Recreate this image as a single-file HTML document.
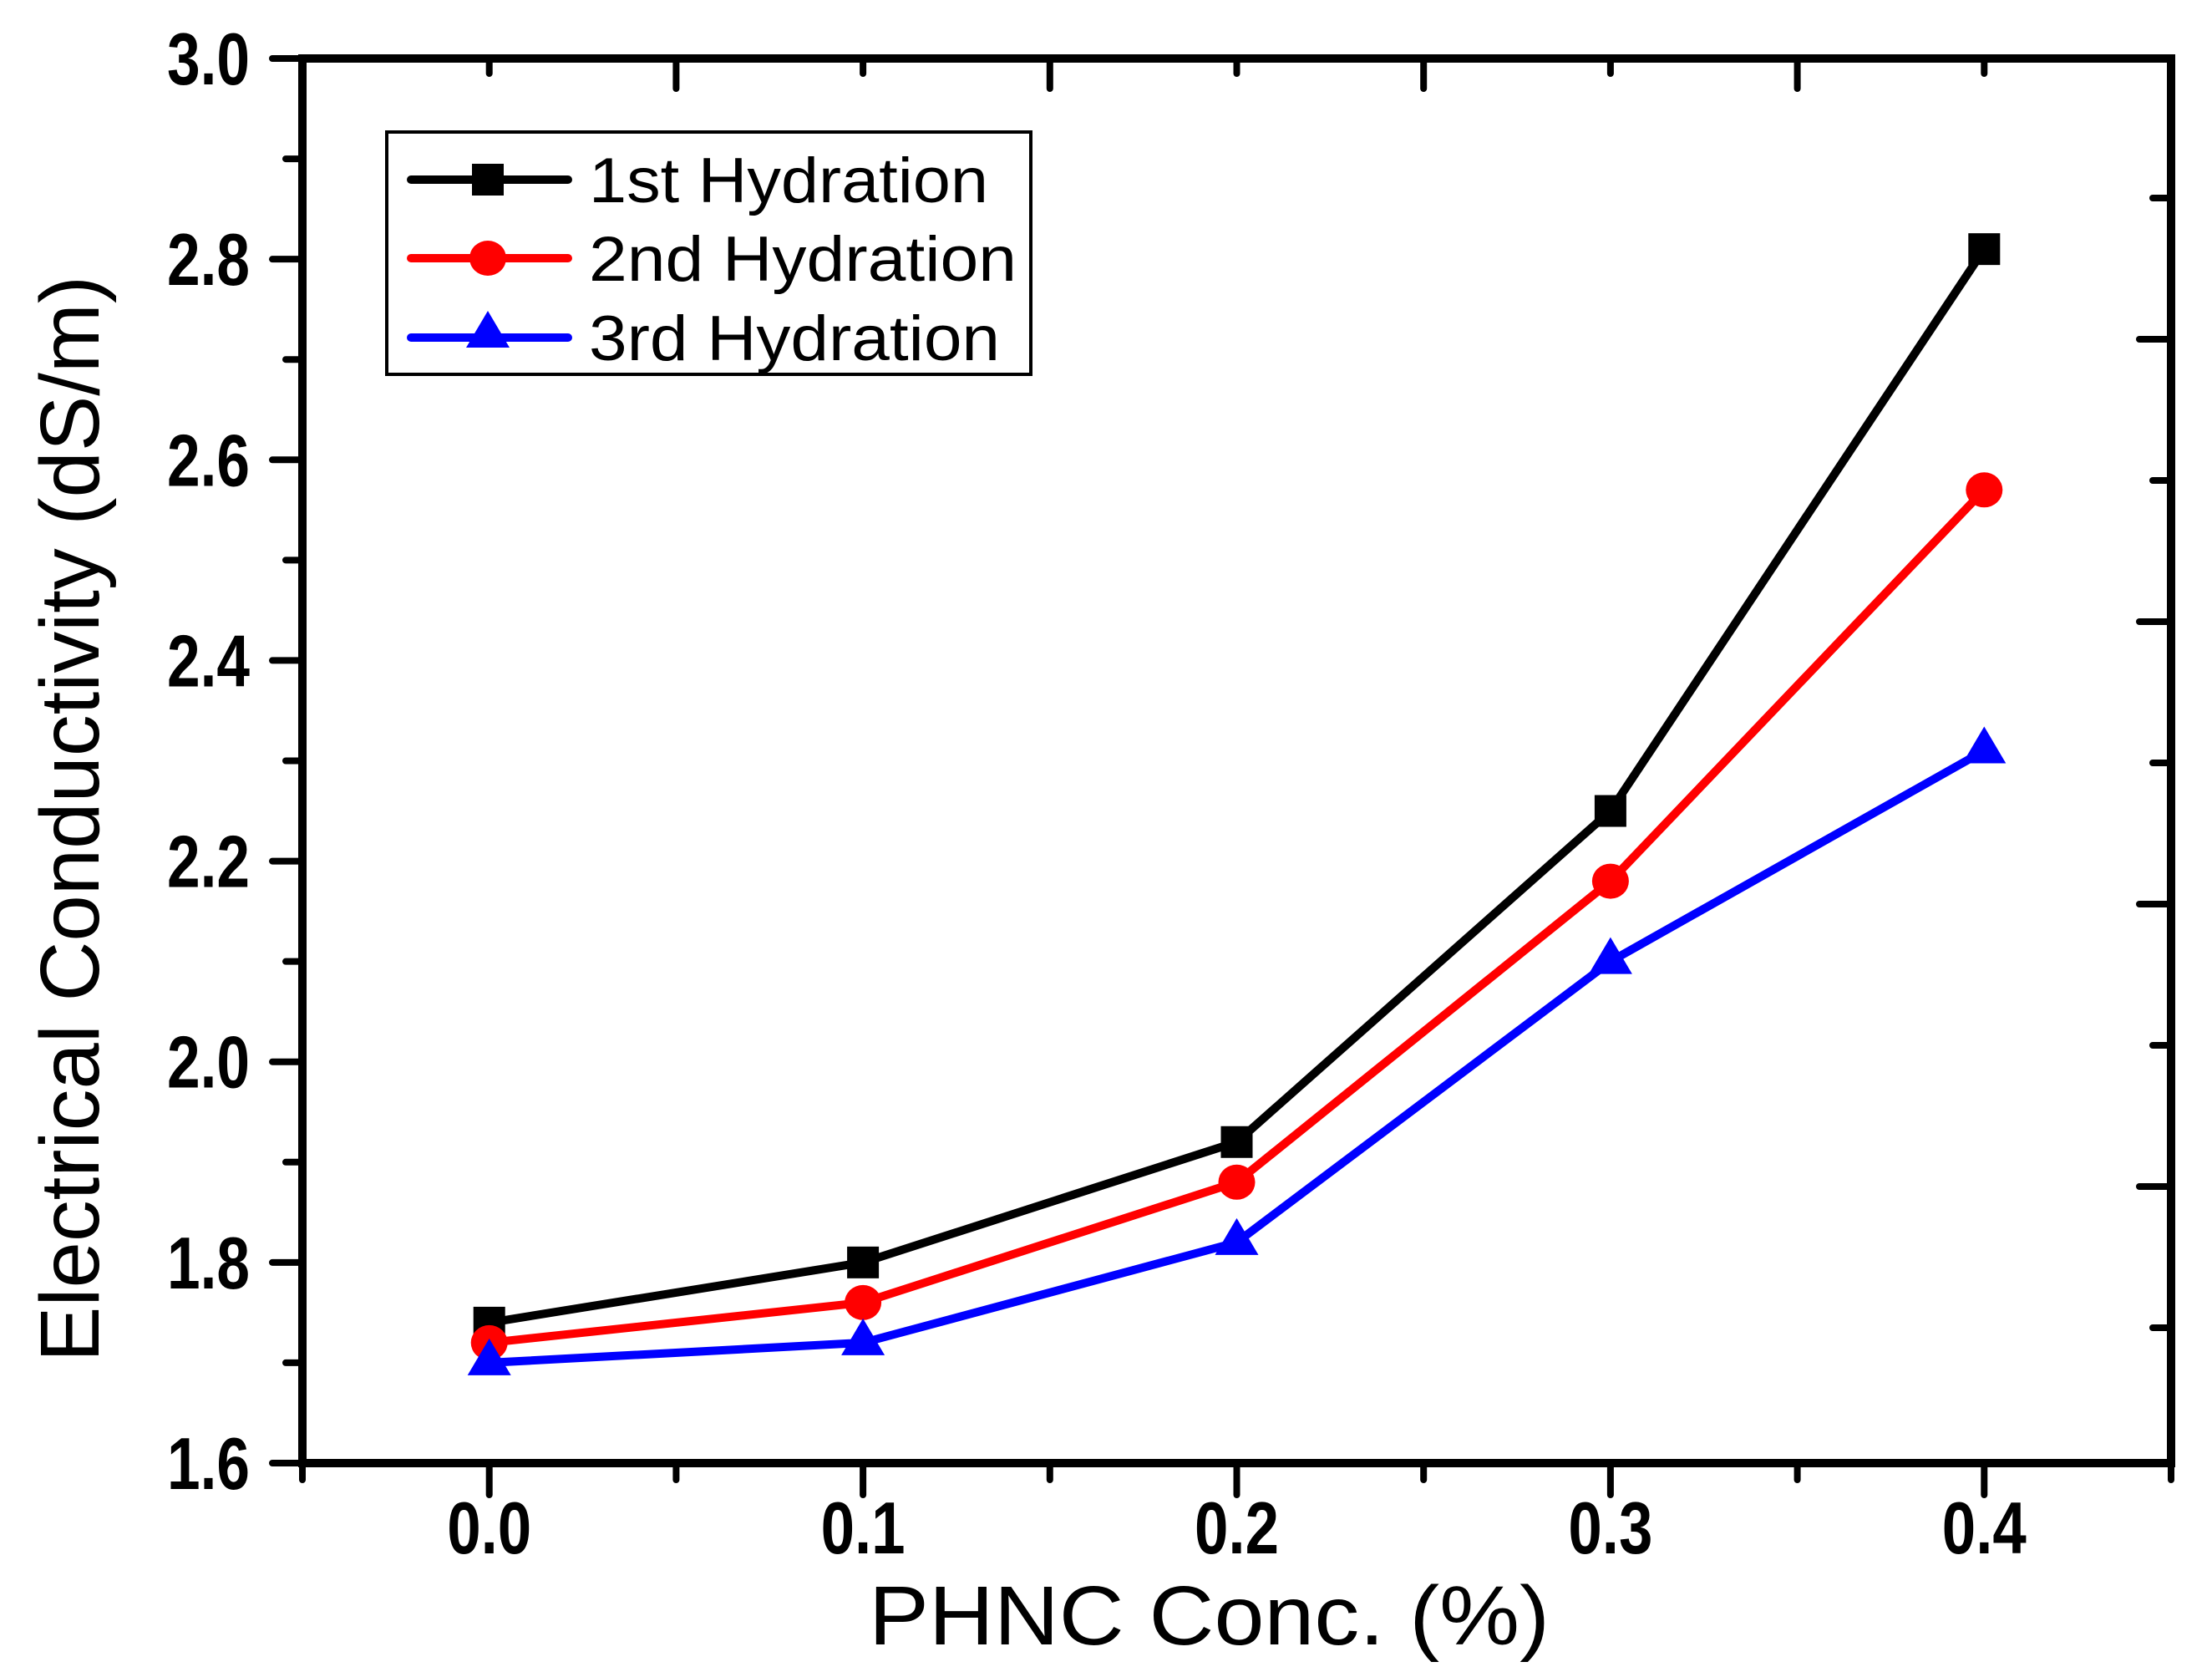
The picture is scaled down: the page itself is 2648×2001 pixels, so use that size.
<!DOCTYPE html>
<html><head><meta charset="utf-8"><style>html,body{margin:0;padding:0;background:#fff}svg{display:block}</style></head>
<body>
<svg id="chart" width="2648" height="2001" viewBox="0 0 2648 2001" xmlns="http://www.w3.org/2000/svg" font-family="'Liberation Sans', Arial, sans-serif">
<rect width="2648" height="2001" fill="#fff"/>
<g id="decor"></g>
<g id="series"></g>
<g id="legend">
  <rect x="463" y="158" width="771" height="290" fill="#fff" stroke="#000" stroke-width="4"/>
</g>
<text x="118" y="980" font-size="100" text-anchor="middle" textLength="1300" lengthAdjust="spacingAndGlyphs" transform="rotate(-90 118 980)">Electrical Conductivity (dS/m)</text>
<text x="1040" y="1968" font-size="100" textLength="815" lengthAdjust="spacingAndGlyphs">PHNC Conc. (%)</text>
<script>
const categories = [0.0, 0.1, 0.2, 0.3, 0.4];
const hyd1 = [1.74, 1.80, 1.92, 2.25, 2.81];
const hyd2 = [1.72, 1.76, 1.88, 2.18, 2.57];
const hyd3 = [1.70, 1.72, 1.82, 2.10, 2.31];
const seriesNames = ["1st Hydration", "2nd Hydration", "3rd Hydration"];
const xTickLabels = ["0.0", "0.1", "0.2", "0.3", "0.4"];
const yTickLabels = ["1.6", "1.8", "2.0", "2.2", "2.4", "2.6", "2.8", "3.0"];

const NS = "http://www.w3.org/2000/svg";
const X0 = 362, X1 = 2599, XMIN = -0.05, XMAX = 0.45;
const Y0 = 1751, Y1 = 70, YMIN = 1.6, YMAX = 3.0;
function xs(v){ return X0 + (v - XMIN) / (XMAX - XMIN) * (X1 - X0); }
function ys(v){ return Y0 - (v - YMIN) / (YMAX - YMIN) * (Y0 - Y1); }
function mk(tag, attrs, parent){ const e = document.createElementNS(NS, tag); for (const k in attrs) e.setAttribute(k, attrs[k]); parent.appendChild(e); return e; }

const decor = document.getElementById('decor');
let fr = mk('rect', {x: X0, y: Y1, width: X1 - X0, height: Y0 - Y1, fill: 'none', stroke: '#000', 'stroke-width': 10}, decor);


for (let i = 0; i <= 10; i++) {
  const v = -0.05 + i * 0.05;
  const major = (i % 2 === 1);
  const t = mk('line', {x1: xs(v), x2: xs(v), y1: Y0, y2: Y0 + (major ? 38 : 20), stroke: '#000', 'stroke-width': 8, 'stroke-linecap': 'round'}, decor);
  
  
  if (i > 0 && i < 10) {
    const tt = mk('line', {x1: xs(v), x2: xs(v), y1: Y1, y2: Y1 + (major ? 18 : 36), stroke: '#000', 'stroke-width': 8, 'stroke-linecap': 'round'}, decor);
    
    
  }
}
xTickLabels.forEach((lab, i) => {
  const t = mk('text', {x: xs(categories[i]), y: 1859, 'font-size': 88, 'font-weight': 'bold', 'text-anchor': 'middle', textLength: 101, lengthAdjust: 'spacingAndGlyphs'}, decor);
  t.textContent = lab;
  
  
});
for (let i = 0; i <= 14; i++) {
  const v = 1.6 + i * 0.1;
  const major = (i % 2 === 0);
  const t = mk('line', {x1: X0, x2: X0 - (major ? 36 : 20), y1: ys(v), y2: ys(v), stroke: '#000', 'stroke-width': 8, 'stroke-linecap': 'round'}, decor);
  
  
}
yTickLabels.forEach((lab, i) => {
  const t = mk('text', {x: 299, y: ys(parseFloat(lab)) + 31, 'font-size': 88, 'font-weight': 'bold', 'text-anchor': 'end', textLength: 99, lengthAdjust: 'spacingAndGlyphs'}, decor);
  t.textContent = lab;
  
  
});
for (let i = 0; i < 9; i++) {
  const y = 237 + i * 169;
  const long = (i % 2 === 1);
  const t = mk('line', {x1: X1, x2: X1 - (long ? 38 : 22), y1: y, y2: y, stroke: '#000', 'stroke-width': 8, 'stroke-linecap': 'round'}, decor);
  
  
}

const sg = document.getElementById('series');
const colors = ['#000000', '#ff0000', '#0000ff'];
const data = [hyd1, hyd2, hyd3];
function marker(kind, cx, cy, color, parent){
  let m;
  if (kind === 0) m = mk('rect', {x: cx - 19, y: cy - 19, width: 38, height: 38, fill: color}, parent);
  else if (kind === 1) m = mk('ellipse', {cx: cx, cy: cy, rx: 22, ry: 21, fill: color}, parent);
  else m = mk('polygon', {points: `${cx},${cy - 29} ${cx - 26},${cy + 15} ${cx + 26},${cy + 15}`, fill: color}, parent);
  return m;
}
data.forEach((vals, s) => {
  const pts = vals.map((v, i) => xs(categories[i]) + ',' + ys(v)).join(' ');
  const pl = mk('polyline', {points: pts, fill: 'none', stroke: colors[s], 'stroke-width': 10, 'stroke-linejoin': 'miter'}, sg);
  
  
  vals.forEach((v, i) => {
    const m = marker(s, xs(categories[i]), ys(v), colors[s], sg);
    
    
  });
});

const lg = document.getElementById('legend');
const rowsY = [215, 309, 404];
const lens = [478, 512, 492];
seriesNames.forEach((name, s) => {
  const ln = mk('line', {x1: 492, x2: 680, y1: rowsY[s], y2: rowsY[s], stroke: colors[s], 'stroke-width': 10, 'stroke-linecap': 'round'}, lg);
  
  
  const m = marker(s, 584, rowsY[s] + (s === 2 ? -3 : 0), colors[s], lg);
  
  
  const t = mk('text', {x: 705, y: rowsY[s] + 27, 'font-size': 76, textLength: lens[s], lengthAdjust: 'spacingAndGlyphs'}, lg);
  t.textContent = name;
  
  
});
</script>
</svg>
</body></html>
